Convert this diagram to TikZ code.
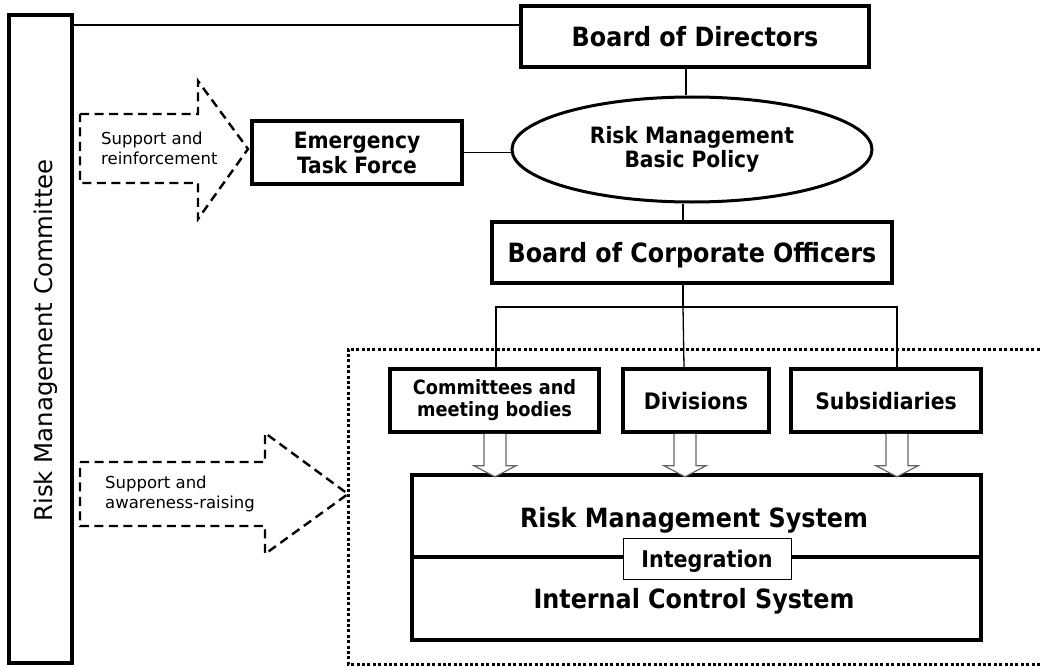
\documentclass[tikz,border=0pt]{standalone}
\usepackage{fontspec}
\setmainfont{DejaVu Sans}
\newfontfamily\cb{DejaVu Sans Condensed Bold}
\usetikzlibrary{shapes.geometric}
\begin{document}
\begin{tikzpicture}[x=1pt,y=-1pt,
  box/.style={draw, line width=3.5pt, inner sep=0pt, align=center, fill=white},
  single/.style={text depth=0pt},
  conn/.style={line width=1.3pt},
  dasharrow/.style={line width=2.4pt, dash pattern=on 9pt off 5.5pt},
  hollow/.style={draw=black!60, line width=1.2pt, fill=white},
  dotframe/.style={line width=3pt, dash pattern=on 3pt off 2.4pt},
  small/.style={anchor=west, align=left, inner sep=0pt, font=\fontsize{16.5}{20}\selectfont}
]
\useasboundingbox (0,0) rectangle (1040,666);

% dotted frame
\draw[dotframe] (1045,349) -- (348,349) -- (348,664) -- (1045,664);

% left committee
\node[box, minimum width=63pt, minimum height=648pt] (rmc) at (40.5,339) {};
\node[rotate=90, anchor=base, inner sep=0pt, font=\fontsize{24.4}{26}\selectfont] (rmct) at (52,340.5) {Risk Management Committee};

% main nodes
\node[box, single, minimum width=348pt, minimum height=61pt, font=\cb\fontsize{26.5}{28}\selectfont] (bod) at (695,36.5) {Board of Directors};
\node[draw, ellipse, line width=3pt, minimum width=360pt, minimum height=105pt, inner sep=0pt, align=center, font=\cb\fontsize{22.5}{24}\selectfont] (pol) at (692,149.5) {Risk Management\\Basic Policy};
\node[box, single, minimum width=400pt, minimum height=61pt, font=\cb\fontsize{26.5}{28}\selectfont] (bco) at (692,252.5) {Board of Corporate Officers};
\node[box, minimum width=210pt, minimum height=63pt, font=\cb\fontsize{22.5}{25}\selectfont] (etf) at (357,152.5) {Emergency\\Task Force};
\node[box, minimum width=209pt, minimum height=63pt, font=\cb\fontsize{19.7}{22}\selectfont] (cmb) at (494.5,400.5) {Committees and\\meeting bodies};
\node[box, single, minimum width=146pt, minimum height=63pt, font=\cb\fontsize{22.7}{25}\selectfont] (div) at (696,400.5) {Divisions};
\node[box, single, minimum width=190pt, minimum height=63pt, font=\cb\fontsize{22.7}{25}\selectfont] (sub) at (886,400.5) {Subsidiaries};

% system box
\node[box, minimum width=569pt, minimum height=165pt] (sys) at (696.5,557.5) {};
\draw[line width=3.5pt] (sys.west |- 0,557) -- (sys.east |- 0,557);
\node[anchor=base, inner sep=0pt, font=\cb\fontsize{26.5}{28}\selectfont] (rms) at (694,527) {Risk Management System};
\node[anchor=base, inner sep=0pt, font=\cb\fontsize{26.5}{28}\selectfont] (ics) at (694,608) {Internal Control System};
\node[draw, line width=1pt, fill=white, single, minimum width=168pt, minimum height=41pt, inner sep=0pt, font=\cb\fontsize{23}{25}\selectfont] (int) at (707,558.5) {Integration};

% connectors
\draw[conn] (rmc.east |- 0,25) -- (bod.west |- 0,25);
\draw[conn] (bod.south -| 686,0) -- (pol.north -| 686,0);
\draw[conn] (pol.south -| 683,0) -- (bco.north -| 683,0);
\draw[conn] (etf.east) -- (etf.east -| pol.west);
\draw[conn] (bco.south -| 683,0) -- (683,307) coordinate (busm);
\draw[conn] (cmb.north -| 496,0) -- (496,307) -- (897,307) -- (sub.north -| 897,0);
\draw[conn] (busm) -- (div.north -| 684,0);

% hollow arrows
\foreach \cx/\src in {495/cmb, 685/div, 897/sub}{
  \draw[hollow] (\src.south -| \cx,0) ++(-11,0) -- ++(0,32) -- ++(-10,0) -- ++(21,11) -- ++(21,-11) -- ++(-10,0) -- ++(0,-32);
}

% dashed arrows
\draw[dasharrow] (80,114) -- (198,114) -- (198,81) -- (248,149) -- (198,219) -- (198,183) -- (80,183) -- cycle;
\node[small] (t1) at (101,148) {Support and\\reinforcement};
\draw[dasharrow] (80,462) -- (265,462) -- (265,433) -- (348,494) -- (265,554) -- (265,526) -- (80,526) -- cycle;
\node[small] (t2) at (105,494) {Support and\\awareness-raising};
\end{tikzpicture}
\end{document}
